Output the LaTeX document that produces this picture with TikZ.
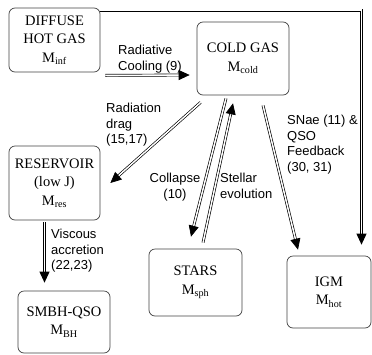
\documentclass[tikz,border=0pt]{standalone}
\usepackage{fontspec}
\setmainfont{Liberation Serif}
\setsansfont{Liberation Sans}
\usetikzlibrary{arrows.meta}

\begin{document}
\begin{tikzpicture}[x=1pt, y=-1pt,
  box/.style={draw=black!75, line width=0.7pt, rounded corners=6pt, align=center, inner sep=0pt,
    font=\fontsize{14.5}{18.5}\selectfont},
  lbl/.style={font=\sffamily\fontsize{13}{15.5}\selectfont, align=left, inner sep=0pt},
  flow/.style={draw=white, line width=0.7pt, -{Triangle[length=11pt, width=10pt, color=black]},
    preaction={draw=black, -, double, double distance=1.4pt, shorten >=8pt}}]
\useasboundingbox (0,0) rectangle (372,354);
% reservoirs
\node[box, minimum width=91pt, minimum height=64pt] (hot) at (54.5,40) {DIFFUSE\\HOT GAS\\M\textsubscript{inf}};
\node[box, minimum width=92pt, minimum height=73pt] (cold) at (243,58.5) {COLD GAS\\M\textsubscript{cold}};
\node[box, minimum width=91pt, minimum height=74pt] (res) at (54.5,183) {RESERVOIR\\(low J)\\M\textsubscript{res}};
\node[box, minimum width=92pt, minimum height=62pt] (smbh) at (64,322) {SMBH-QSO\\M\textsubscript{BH}};
\node[box, minimum width=93pt, minimum height=67pt] (stars) at (195.5,282.5) {STARS\\M\textsubscript{sph}};
\node[box, minimum width=84pt, minimum height=72pt] (igm) at (329,292) {IGM\\M\textsubscript{hot}};
% flows
\draw[flow] ([shift={(5,3)}]hot.south east) -- ([shift={(-7,16.5)}]cold.west);
\draw[flow] ([shift={(4,7)}]cold.south west) -- ([shift={(10,0)}]res.east);
\draw[flow] ([shift={(-17,3)}]cold.south) -- ([shift={(-4.5,-12)}]stars.north);
\draw[flow] ([shift={(7.5,-6)}]stars.north) -- ([shift={(-10,8)}]cold.south);
\draw[flow] ([shift={(20,10)}]cold.south) -- ([shift={(-31,-6)}]igm.north);
\draw[flow] ([shift={(0,2.5)}]hot.north east) -| ([shift={(32.5,-11)}]igm.north);
\draw[flow] ([shift={(-10,2)}]res.south) -- ([shift={(-19.5,-8)}]smbh.north);
% labels
\node[lbl, anchor=north west] (lcool) at (118,45) {Radiative\\Cooling (9)};
\node[lbl, anchor=north west] (ldrag) at (106,103) {Radiation\\drag\\(15,17)};
\node[lbl, anchor=north, align=center] (lcoll) at (175,173) {Collapse\\(10)};
\node[lbl, anchor=north west] (lstel) at (220,173) {Stellar\\evolution};
\node[lbl, anchor=north west] (lfeed) at (287,115) {SNae (11) \&\\QSO\\Feedback\\(30, 31)};
\node[lbl, anchor=north west] (lvisc) at (51,229) {Viscous\\accretion\\(22,23)};
\end{tikzpicture}
\end{document}
